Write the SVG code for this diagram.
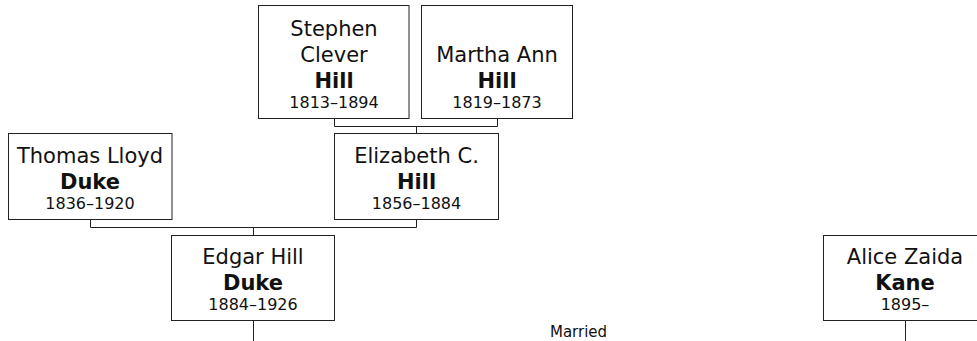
<svg xmlns="http://www.w3.org/2000/svg" width="977" height="341" viewBox="0 0 977 341">
<style>
.box{fill:#fff;stroke:#222;stroke-width:1}
.n{font-family:"DejaVu Sans",Verdana,sans-serif;font-size:21px;fill:#111;text-anchor:middle}
.b{font-weight:bold}
.d{font-family:"DejaVu Sans",Verdana,sans-serif;font-size:16px;fill:#111;text-anchor:middle}
.c{fill:none;stroke:#222;stroke-width:1}
.lbl{font-family:"DejaVu Sans",Verdana,sans-serif;font-size:15px;fill:#111;text-anchor:middle}
</style>
<g id="connectors">
<path class="c" d="M334.5 118.5V126.5H497.5V118.5M416.5 126.5V133.5"/>
<path class="c" d="M90.5 219.5V227.5H416.5V219.5M253.5 227.5V235.5"/>
<path class="c" d="M253.5 320.5V341"/>
<path class="c" d="M905.5 320.5V341"/>
<text class="lbl" x="578.5" y="337">Married</text>
</g>
<g id="stephen">
<rect class="box" x="258.5" y="5.5" width="150.5" height="113"/>
<text class="n" x="334" y="36">Stephen</text>
<text class="n" x="334" y="62">Clever</text>
<text class="n b" x="334" y="88">Hill</text>
<text class="d" x="334" y="108">1813–1894</text>
</g>
<g id="martha">
<rect class="box" x="421.5" y="5.5" width="151" height="113"/>
<text class="n" x="497" y="62">Martha Ann</text>
<text class="n b" x="497" y="88">Hill</text>
<text class="d" x="497" y="108">1819–1873</text>
</g>
<g id="thomas">
<rect class="box" x="8.5" y="133.5" width="163.5" height="86"/>
<text class="n" x="90" y="163">Thomas Lloyd</text>
<text class="n b" x="90" y="189">Duke</text>
<text class="d" x="90" y="209">1836–1920</text>
</g>
<g id="elizabeth">
<rect class="box" x="334.5" y="133.5" width="164" height="86"/>
<text class="n" x="416.5" y="163">Elizabeth C.</text>
<text class="n b" x="416.5" y="189">Hill</text>
<text class="d" x="416.5" y="209">1856–1884</text>
</g>
<g id="edgar">
<rect class="box" x="171.5" y="235.5" width="163" height="85"/>
<text class="n" x="253" y="264">Edgar Hill</text>
<text class="n b" x="253" y="290">Duke</text>
<text class="d" x="253" y="310">1884–1926</text>
</g>
<g id="alice">
<rect class="box" x="823.5" y="235.5" width="164" height="85"/>
<text class="n" x="905" y="264">Alice Zaida</text>
<text class="n b" x="905" y="290">Kane</text>
<text class="d" x="905" y="310">1895–</text>
</g>
</svg>
